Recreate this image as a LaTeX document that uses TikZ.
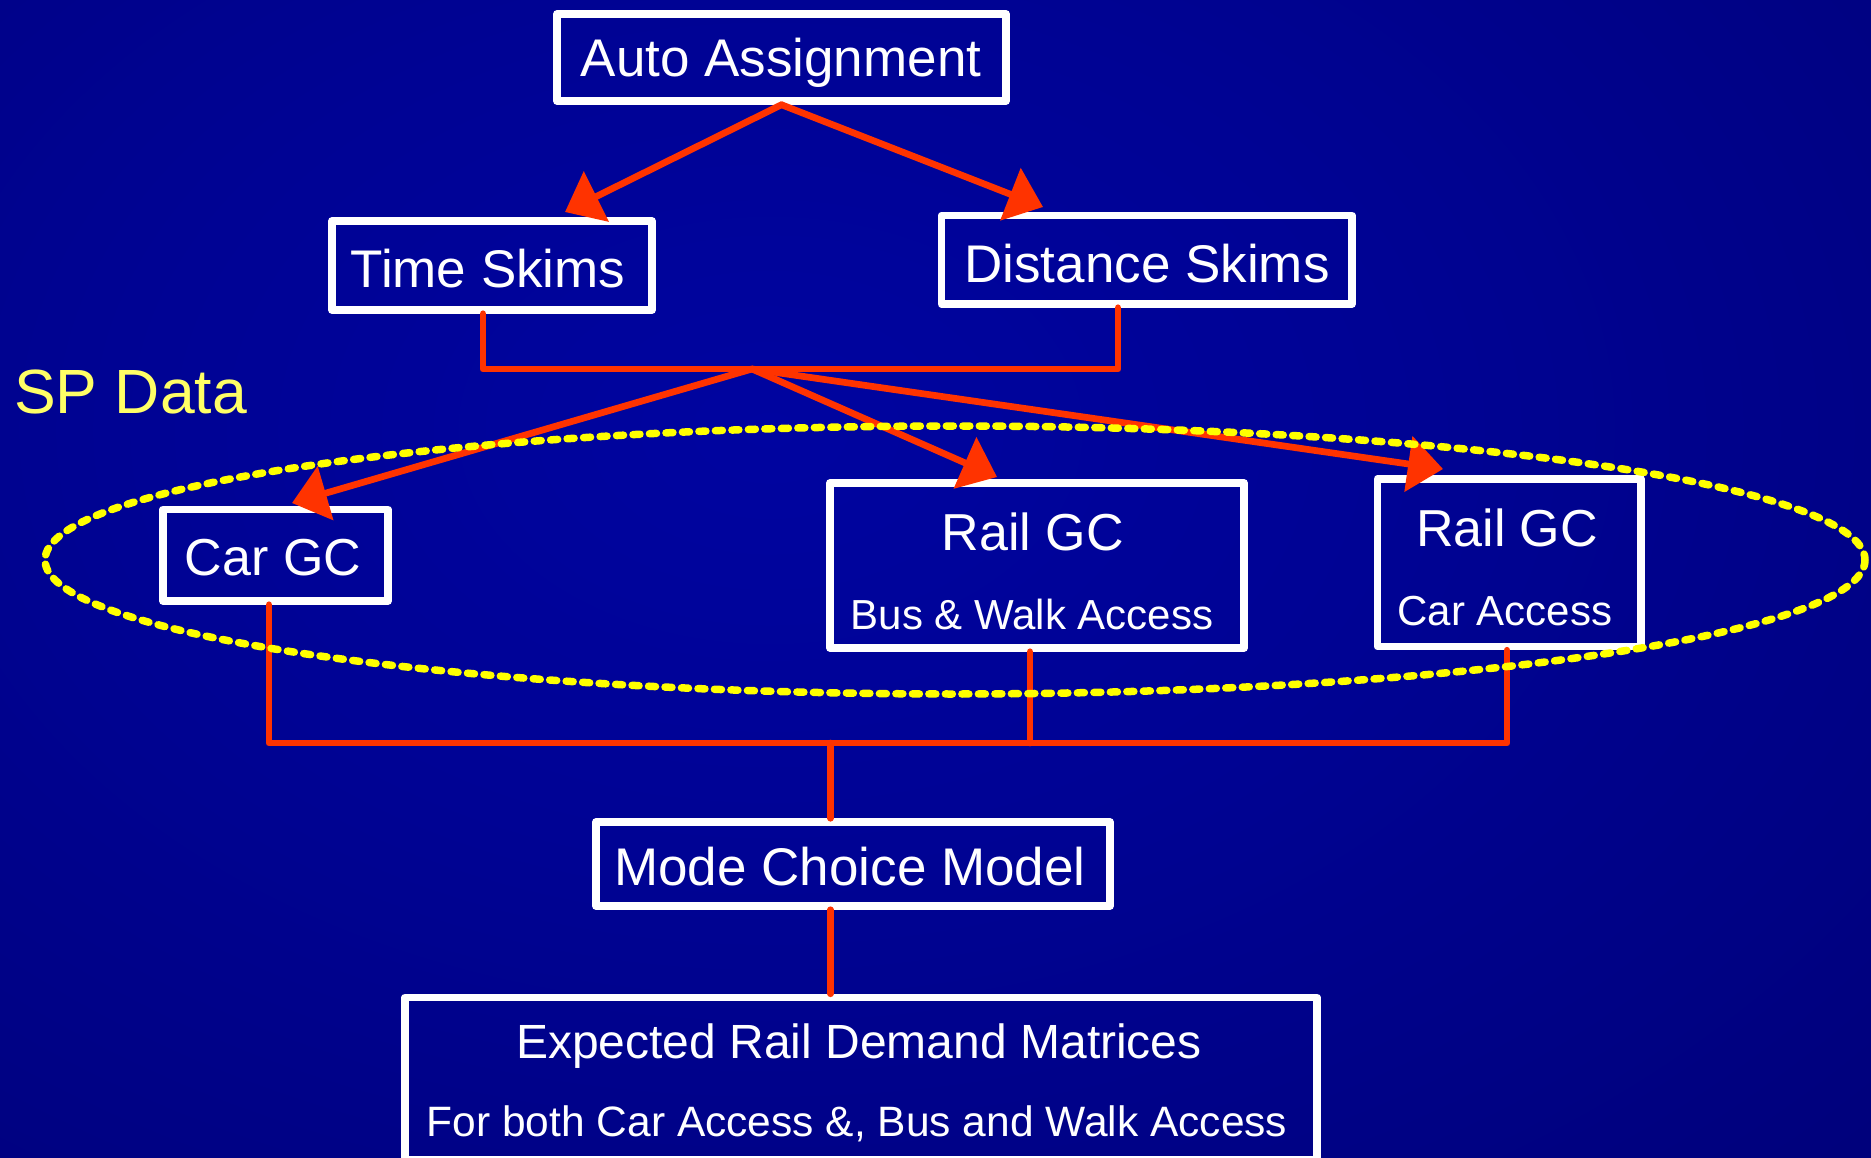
\documentclass[tikz,border=0pt]{standalone}
\usepackage{fontspec}
\setmainfont{Liberation Sans}
\usetikzlibrary{arrows.meta,calc}
\definecolor{bgin}{RGB}{0,4,160}
\definecolor{bgout}{RGB}{0,0,112}
\colorlet{bgmid}{bgin!75!bgout}
\definecolor{redl}{RGB}{255,51,0}
\definecolor{spy}{RGB}{255,255,102}
\definecolor{ely}{RGB}{255,255,0}
\pgfdeclareradialshading{bgshade}{\pgfpoint{0bp}{0bp}}{color(0bp)=(bgin); color(14bp)=(bgmid); color(44bp)=(bgout); color(50bp)=(bgout)}
\tikzset{
  box/.style={draw=white, line width=7.5pt, line join=round, inner sep=0pt},
  txt/.style={text=white, inner sep=0pt, anchor=base},
  bigf/.style={font=\fontsize{53}{60}\selectfont},
  subf/.style={font=\fontsize{42}{50}\selectfont},
  conn/.style={draw=redl, line width=6.7pt, line cap=round, line join=round},
  arr/.style={conn, -{Triangle[length=35pt,width=55pt]}},
  spell/.style={draw=ely, line width=7.5pt, line cap=round, dash pattern=on 7pt off 9.5pt}
}
\begin{document}
\begin{tikzpicture}[x=1pt, y=-1pt]
\useasboundingbox (0,0) rectangle (1871,1158);
\begin{scope}
  \clip (0,0) rectangle (1871,1158);
  \shade[shading=bgshade] (-340,-330) rectangle (1880,1190);
\end{scope}

% boxes
\node[box, minimum width=449pt, minimum height=87pt] (auto) at (781.5,57.5) {};
\node[box, minimum width=320pt, minimum height=89pt] (time) at (492,265.5) {};
\node[box, minimum width=410.5pt, minimum height=88.5pt] (dist) at (1146.75,259.75) {};
\node[box, minimum width=225pt, minimum height=91.5pt] (car) at (275.5,555.25) {};
\node[box, minimum width=414pt, minimum height=165pt] (railb) at (1037,565.5) {};
\node[box, minimum width=263.5pt, minimum height=167.5pt] (railc) at (1509.25,562.75) {};
\node[box, minimum width=514pt, minimum height=84pt] (mode) at (853,864) {};
\node[box, minimum width=912pt, minimum height=162.5pt] (exp) at (861,1078.75) {};

% texts
\node[txt, bigf] (autot) at (781,77) {Auto Assignment};
\node[txt, bigf] (timet) at (488,288) {Time Skims};
\node[txt, bigf] (distt) at (1147,283) {Distance Skims};
\node[txt, font=\fontsize{52}{60}\selectfont] (cart) at (273,575) {Car GC};
\node[txt, font=\fontsize{52}{60}\selectfont] (railbt) at (1033,550) {Rail GC};
\node[txt, subf] (railbs) at (1032,629) {Bus \& Walk Access};
\node[txt, font=\fontsize{52}{60}\selectfont] (railct) at (1507,546) {Rail GC};
\node[txt, subf] (railcs) at (1505,625) {Car Access};
\node[txt, bigf] (modet) at (850,885) {Mode Choice Model};
\node[txt, font=\fontsize{48}{56}\selectfont] (expt) at (859,1058) {Expected Rail Demand Matrices};
\node[txt, font=\fontsize{42.5}{50}\selectfont] (exps) at (857,1136) {For both Car Access \&, Bus and Walk Access};
\node[inner sep=0pt, anchor=base west, text=spy, font=\fontsize{62.5}{70}\selectfont] (sp) at (14,413) {SP Data};

% coordinates
\coordinate (tT) at (565,212);
\coordinate (tD) at (1043,207);
\coordinate (tl) at (483,369);
\coordinate (tr) at (1118,369);
\coordinate (j1) at (752,369);
\coordinate (tC) at (292,503);
\coordinate (tB) at (997,477);
\coordinate (tR) at (1443,469);
\coordinate (bl) at (269,743);
\coordinate (bm) at (1030,743);
\coordinate (br) at (1507,743);
\coordinate (bj) at (830.5,743);

% connectors
\draw[arr] (auto.south) -- (tT);
\draw[arr] (auto.south) -- (tD);
\draw[conn] (time.south -| tl) -- (tl) -- (tr) -- (dist.south -| tr);
\draw[arr] (j1) -- (tC);
\draw[arr] (j1) -- (tB);
\draw[arr] (j1) -- (tR);
\draw[conn] (car.south -| bl) -- (bl) -- (br) -- (railc.south -| br);
\draw[conn] (railb.south -| bm) -- (bm);
\draw[conn] (bj) -- (mode.north -| bj);
\draw[conn] (mode.south -| bj) -- (exp.north -| bj);

% SP data ellipse
\draw[spell] (955,560) ellipse [x radius=910, y radius=134];
\end{tikzpicture}
\end{document}
